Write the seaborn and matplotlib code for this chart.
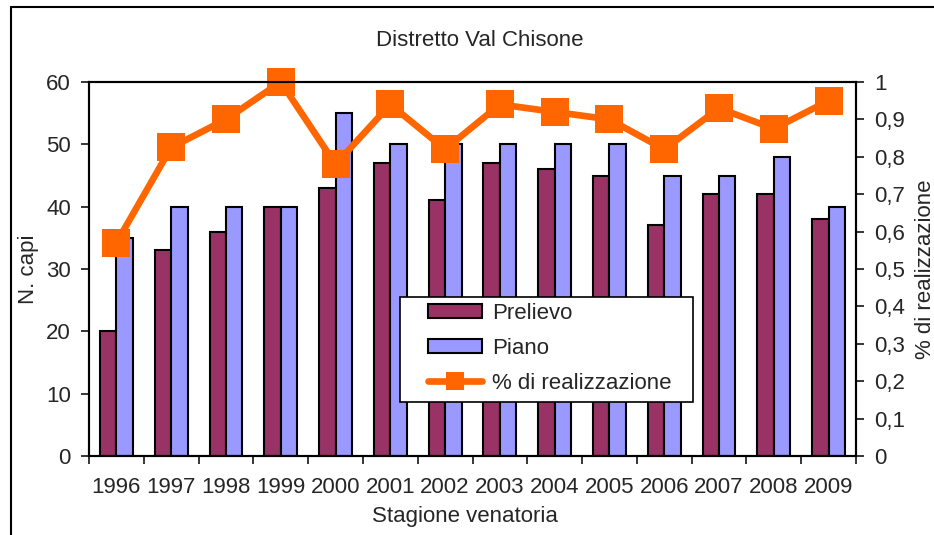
import matplotlib
matplotlib.use("Agg")
import matplotlib.pyplot as plt
from matplotlib.lines import Line2D
from matplotlib.patches import Patch, Rectangle
import seaborn as sns
import pandas as pd
import numpy as np

years = ["1996", "1997", "1998", "1999", "2000", "2001", "2002",
         "2003", "2004", "2005", "2006", "2007", "2008", "2009"]
prelievo = [20, 33, 36, 40, 43, 47, 41, 47, 46, 45, 37, 42, 42, 38]
piano = [35, 40, 40, 40, 55, 50, 50, 50, 50, 50, 45, 45, 48, 40]
realizzazione = [0.57, 0.825, 0.90, 1.00, 0.78, 0.94, 0.82,
                 0.94, 0.92, 0.90, 0.82, 0.93, 0.875, 0.95]
pct_ticks = ["0", "0,1", "0,2", "0,3", "0,4", "0,5", "0,6",
             "0,7", "0,8", "0,9", "1"]

COL_PRELIEVO = "#993366"
COL_PIANO = "#9999FF"
COL_PCT = "#FF6600"
FS = 16

sns.set_style("ticks")
plt.rcParams["font.family"] = ["Liberation Sans", "DejaVu Sans"]

df = pd.DataFrame({
    "anno": years * 2,
    "capi": prelievo + piano,
    "serie": ["Prelievo"] * len(years) + ["Piano"] * len(years),
})

fig = plt.figure(figsize=(9.34, 5.35), dpi=100)
ax = fig.add_axes([89 / 934, 1 - 456 / 535, 767 / 934, 374 / 535])

sns.barplot(data=df, x="anno", y="capi", hue="serie",
            palette={"Prelievo": COL_PRELIEVO, "Piano": COL_PIANO},
            saturation=1, edgecolor="black", linewidth=1.5,
            width=0.6, gap=0, legend=False, ax=ax)
ax.set_ylim(0, 60)
ax.set_xlim(-0.5, len(years) - 0.5)
ax.set_yticks(range(0, 61, 10))
ax.set_xticks(range(len(years)))
ax.set_xticklabels(years)
ax.set_xticks(np.arange(-0.5, len(years), 1), minor=True)
ax.tick_params(axis="x", which="major", length=0, labelsize=FS, pad=15)
ax.tick_params(axis="x", which="minor", length=6, width=1.3, direction="out")
ax.tick_params(axis="y", length=6, width=1.3, labelsize=FS, pad=7)
ax.set_xlabel("Stagione venatoria", fontsize=FS, labelpad=6)
ax.xaxis.label.set_x((465 - 89) / 767)
ax.set_ylabel("N. capi", fontsize=FS, labelpad=5)
for s in ax.spines.values():
    s.set_linewidth(1.5)
    s.set_color("black")

ax2 = ax.twinx()
sns.lineplot(x=np.arange(len(years)), y=realizzazione, color=COL_PCT,
             linewidth=4.8, marker="s", markersize=19.5, markeredgewidth=0,
             clip_on=False, ax=ax2)
ax2.set_ylim(0, 1)
ax2.set_yticks(np.linspace(0, 1, 11))
ax2.set_yticklabels(pct_ticks)
ax2.tick_params(axis="y", length=6, width=1.3, labelsize=FS, pad=7)
ax2.set_ylabel("% di realizzazione", fontsize=FS, labelpad=7)
for s in ax2.spines.values():
    s.set_linewidth(1.5)
    s.set_color("black")

fig.text(480 / 934, 1 - 40 / 535, "Distretto Val Chisone",
         ha="center", va="center", fontsize=FS)

# riquadro della legenda (stile Excel)
ax2.add_patch(Rectangle((311 / 767, 54 / 374), 293 / 767, 105 / 374,
                        transform=ax2.transAxes, facecolor="white",
                        edgecolor="black", linewidth=1.2,
                        clip_on=False, zorder=4))

handles = [
    Patch(facecolor=COL_PRELIEVO, edgecolor="black", linewidth=1.5),
    Patch(facecolor=COL_PIANO, edgecolor="black", linewidth=1.5),
    Line2D([], [], color=COL_PCT, linewidth=4.8, marker="s",
           markersize=13.5, markeredgewidth=0),
]
leg = ax2.legend(handles, ["Prelievo", "Piano", "% di realizzazione"],
                 loc="upper left",
                 bbox_to_anchor=((428 - 89) / 767, (456 - 303) / 374),
                 fontsize=FS, frameon=False, borderpad=0, borderaxespad=0,
                 handlelength=2.45, handleheight=0.55, handletextpad=0.45,
                 labelspacing=0.62)
leg.set_zorder(5)

# cornice esterna del grafico
fig.add_artist(Line2D([11 / 934, 11 / 934], [0, 1 - 7 / 535],
                      color="black", linewidth=1.5,
                      transform=fig.transFigure))
fig.add_artist(Line2D([11 / 934, 1], [1 - 7 / 535, 1 - 7 / 535],
                      color="black", linewidth=1.5,
                      transform=fig.transFigure))

fig.savefig("out.png", dpi=100)
